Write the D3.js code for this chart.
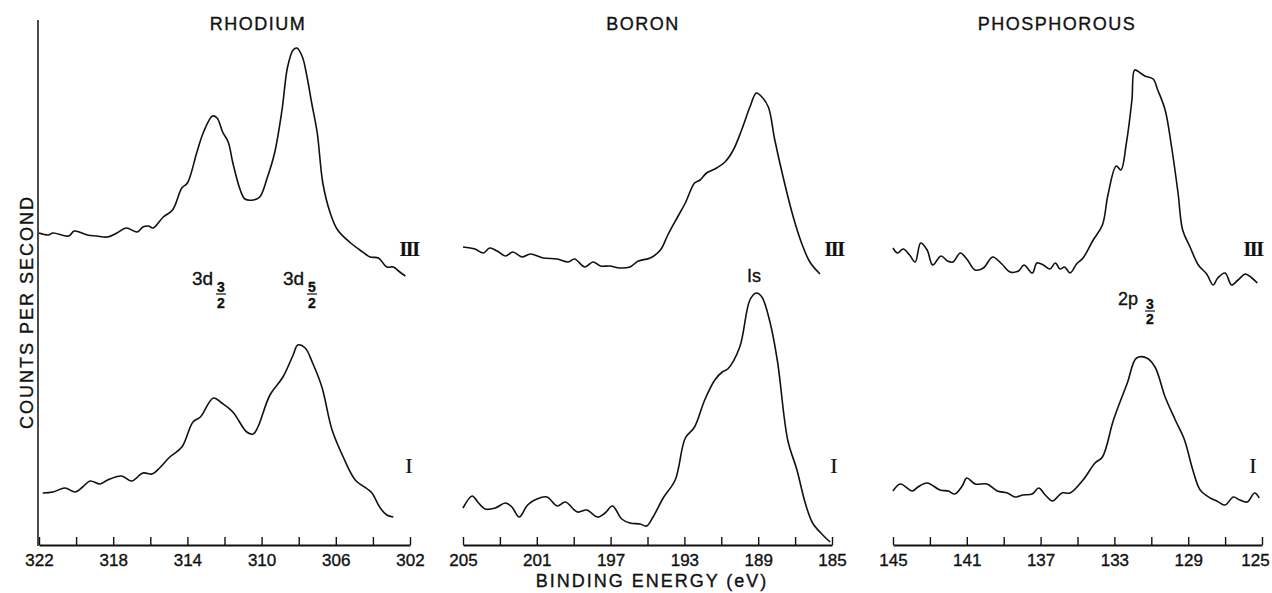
<!DOCTYPE html>
<html>
<head>
<meta charset="utf-8">
<script src="https://cdn.jsdelivr.net/npm/d3@7"></script>
<style>
  html, body { margin: 0; padding: 0; background: #fff; }
  svg { display: block; }
  text { font-family: "Liberation Sans", Arial, sans-serif; fill: #111; stroke: #111; stroke-width: 0.35px; }
  .roman { font-family: "Liberation Serif", "Times New Roman", serif; stroke-width: 0.2px; }
</style>
</head>
<body>
<svg id="chart" width="1272" height="593"></svg>
<script>
// ---------------- DATA ----------------
const panelTitles = ["RHODIUM", "BORON", "PHOSPHOROUS"];
const rhodiumTicks = [322, 320, 318, 316, 314, 312, 310, 308, 306, 304, 302];
const boronTicks = [205, 203, 201, 199, 197, 195, 193, 191, 189, 187, 185];
const phosTicks = [145, 143, 141, 139, 137, 135, 133, 131, 129, 127, 125];
const rhodiumLabels = [322, 318, 314, 310, 306, 302];
const boronLabels = [205, 201, 197, 193, 189, 185];
const phosLabels = [145, 141, 137, 133, 129, 125];

// Rhodium 3d, sample III (upper trace)
const rhIII_E = [322.0, 321.5, 321.25, 320.4, 320.1, 319.4, 318.9, 318.3, 317.8, 317.3, 316.7, 316.4, 316.1, 315.85, 315.3, 314.8, 314.3, 314.0, 313.5, 313.15, 312.65, 312.4, 312.1, 311.8, 311.55, 311.15, 310.9, 310.45, 310.1, 309.7, 309.3, 308.9, 308.6, 308.3, 308.1, 307.8, 307.55, 307.3, 307.0, 306.7, 306.3, 305.9, 305.2, 304.7, 304.15, 303.7, 303.25, 302.9, 302.55, 302.25];
const rhIII_C = [312, 310, 312, 309, 314, 310, 309, 308, 312, 317, 313, 318, 319, 317, 328, 335, 357, 362, 392, 412, 429, 427, 413, 403, 382, 355, 346, 345, 348, 367, 392, 435, 478, 495, 497, 488, 468, 442, 412, 362, 332, 315, 302, 295, 288, 287, 278, 278, 273, 269];
// Rhodium 3d, sample I (lower trace)
const rhI_E = [321.8, 321.25, 320.6, 320.05, 319.65, 319.25, 318.7, 318.3, 317.55, 317.0, 316.4, 315.9, 315.5, 314.95, 314.3, 313.7, 313.3, 312.6, 312.15, 311.55, 310.8, 310.45, 310.2, 309.55, 308.85, 308.3, 308.05, 307.65, 307.25, 306.75, 306.2, 305.6, 304.95, 304.3, 304.05, 303.6, 303.25, 302.9];
const rhI_C = [52, 53, 57, 53, 58, 64, 61, 65, 69, 64, 72, 71, 77, 88, 98, 123, 128, 147, 142, 133, 113, 111, 118, 150, 168, 190, 200, 197, 182, 158, 115, 88, 65, 56, 52, 37, 30, 28];

// Boron 1s
const bIII_E = [205.0, 204.35, 203.9, 203.55, 203.15, 202.7, 202.3, 201.8, 201.35, 200.65, 199.9, 199.3, 198.95, 198.4, 197.95, 197.55, 197.05, 196.5, 195.95, 195.5, 194.85, 194.3, 193.9, 193.4, 192.95, 192.45, 192.15, 191.8, 191.25, 190.8, 190.35, 189.9, 189.45, 189.1, 188.8, 188.45, 188.1, 187.65, 187.1, 186.65, 186.2, 185.65];
const bIII_C = [298, 296, 292, 297, 294, 289, 293, 288, 291, 287, 286, 283, 286, 278, 283, 279, 279, 277, 278, 284, 287, 295, 310, 327, 342, 362, 365, 372, 377, 383, 395, 415, 438, 452, 448, 438, 405, 368, 328, 302, 283, 271];
const bI_E = [205.0, 204.5, 204.2, 203.8, 203.25, 202.7, 202.35, 201.95, 201.5, 201.0, 200.45, 199.9, 199.45, 198.8, 198.3, 197.7, 197.3, 196.9, 196.4, 195.95, 195.4, 195.05, 194.7, 194.15, 193.5, 192.95, 192.45, 191.9, 191.35, 190.95, 190.65, 190.0, 189.45, 189.1, 188.8, 188.35, 187.95, 187.4, 186.9, 186.45, 186.05, 185.5, 185.1];
const bI_C = [37, 49, 43, 36, 37, 42, 38, 28, 40, 46, 48, 39, 43, 33, 35, 28, 32, 39, 26, 22, 21, 19, 28, 47, 65, 107, 118, 145, 165, 173, 176, 198, 245, 252, 248, 222, 183, 105, 75, 42, 22, 10, 3];

// Phosphorous 2p3/2
const pIII_E = [145.0, 144.75, 144.45, 144.1, 143.8, 143.5, 143.15, 142.85, 142.4, 142.05, 141.75, 141.35, 141.0, 140.55, 140.1, 139.6, 139.1, 138.65, 138.2, 137.9, 137.45, 137.2, 136.85, 136.5, 136.2, 135.95, 135.7, 135.4, 135.05, 134.7, 134.15, 133.65, 133.35, 132.9, 132.65, 132.35, 132.05, 131.9, 131.6, 131.35, 130.9, 130.65, 130.25, 129.9, 129.55, 129.3, 128.9, 128.45, 128.0, 127.65, 127.4, 127.0, 126.65, 126.3, 125.9, 125.55, 125.25];
const pIII_C = [297, 292, 296, 290, 283, 302, 295, 280, 289, 284, 283, 292, 286, 275, 277, 288, 281, 273, 274, 280, 272, 282, 280, 276, 282, 276, 278, 272, 281, 287, 305, 320, 350, 379, 375, 402, 445, 475, 472, 469, 466, 455, 435, 398, 352, 315, 298, 280, 271, 260, 267, 272, 260, 265, 271, 267, 262];
const pI_E = [145.0, 144.6, 143.95, 143.65, 143.15, 142.45, 142.0, 141.65, 141.25, 141.0, 140.55, 139.9, 139.35, 138.8, 138.4, 137.95, 137.45, 137.1, 136.75, 136.35, 135.85, 135.4, 134.7, 134.05, 133.65, 133.05, 132.3, 131.8, 131.25, 130.8, 130.25, 129.7, 129.2, 128.75, 128.35, 127.8, 127.45, 127.0, 126.55, 126.2, 125.8, 125.4, 125.15];
const pI_C = [54, 61, 54, 58, 62, 55, 54, 51, 59, 67, 61, 61, 54, 52, 48, 50, 51, 57, 50, 44, 52, 52, 65, 82, 88, 125, 162, 187, 187, 178, 148, 125, 105, 75, 55, 47, 44, 40, 48, 45, 43, 52, 47];

// ---------------- CHART ----------------
const svg = d3.select("#chart");
const y = d3.scaleLinear().domain([0, 500]).range([545, 45]);

const panels = [
  { title: panelTitles[0], domain: [322, 302], range: [39, 410], ticks: rhodiumTicks, labels: rhodiumLabels,
    series: [[rhIII_E, rhIII_C], [rhI_E, rhI_C]], titleX: 258, romanX: 409 },
  { title: panelTitles[1], domain: [205, 185], range: [463, 832], ticks: boronTicks, labels: boronLabels,
    series: [[bIII_E, bIII_C], [bI_E, bI_C]], titleX: 643, romanX: 834 },
  { title: panelTitles[2], domain: [145, 125], range: [893, 1262], ticks: phosTicks, labels: phosLabels,
    series: [[pIII_E, pIII_C], [pI_E, pI_C]], titleX: 1057, romanX: 1253 }
];

panels.forEach((p, pi) => {
  const x = d3.scaleLinear().domain(p.domain).range(p.range);
  const axis = d3.axisBottom(x)
    .tickValues(p.ticks)
    .tickSizeInner(-8)
    .tickSizeOuter(0)
    .tickPadding(9)
    .tickFormat(d => p.labels.includes(d) ? String(d) : "");
  const g = svg.append("g").attr("transform", "translate(0,545)").call(axis);
  g.select(".domain").attr("stroke", "#111").attr("stroke-width", 2);
  g.selectAll(".tick line").attr("stroke", "#111").attr("stroke-width", 1.4);
  g.selectAll(".tick text").attr("font-size", 17).attr("fill", "#111")
    .attr("font-family", "'Liberation Sans', Arial, sans-serif");
  if (pi === 2) {
    // last label sits against the right edge, as in the reference
    g.selectAll(".tick text").filter(d => d === 125).attr("dx", -7);
  }

  const line = d3.line()
    .x(d => x(d[0]))
    .y(d => y(d[1]))
    .curve(d3.curveCatmullRom.alpha(0.5));
  p.series.forEach(([E, C]) => {
    svg.append("path")
      .datum(E.map((e, i) => [e, C[i]]))
      .attr("fill", "none")
      .attr("stroke", "#111")
      .attr("stroke-width", 1.6)
      .attr("stroke-linejoin", "round")
      .attr("d", line);
  });

  svg.append("text")
    .attr("x", p.titleX).attr("y", 30)
    .attr("text-anchor", "middle")
    .attr("font-size", 18).attr("letter-spacing", 1.5)
    .text(p.title);

  svg.append("text").attr("class", "roman")
    .attr("x", p.romanX).attr("y", 256)
    .attr("text-anchor", "middle")
    .attr("font-size", 20).attr("font-weight", "bold").attr("letter-spacing", -1.5)
    .text("III");
  svg.append("text").attr("class", "roman")
    .attr("x", p.romanX).attr("y", 473)
    .attr("text-anchor", "middle")
    .attr("font-size", 22)
    .text("I");
});

// left vertical axis
svg.append("line")
  .attr("x1", 38).attr("x2", 38)
  .attr("y1", 20).attr("y2", 546)
  .attr("stroke", "#111").attr("stroke-width", 1.5);

// axis titles
svg.append("text")
  .attr("x", 652).attr("y", 587)
  .attr("text-anchor", "middle")
  .attr("font-size", 18).attr("letter-spacing", 2)
  .text("BINDING ENERGY (eV)");

svg.append("text")
  .attr("transform", "translate(33,312) rotate(-90)")
  .attr("text-anchor", "middle")
  .attr("font-size", 18).attr("letter-spacing", 2)
  .text("COUNTS PER SECOND");

// peak annotations
function orbital(main, xMain, yBase, size, num, xFrac, yNum, yDen) {
  svg.append("text").attr("x", xMain).attr("y", yBase).attr("font-size", size).text(main);
  if (num) {
    svg.append("text").attr("x", xFrac).attr("y", yNum).attr("font-size", 14)
      .attr("font-weight", "bold").attr("text-anchor", "middle").text(num);
    svg.append("line").attr("x1", xFrac - 5).attr("x2", xFrac + 5)
      .attr("y1", yNum + 2).attr("y2", yNum + 2)
      .attr("stroke", "#111").attr("stroke-width", 1.2);
    svg.append("text").attr("x", xFrac).attr("y", yDen).attr("font-size", 14)
      .attr("font-weight", "bold").attr("text-anchor", "middle").text("2");
  }
}
orbital("3d", 192, 285, 19, "3", 221, 292, 308);
orbital("3d", 283, 285, 19, "5", 312, 292, 308);
orbital("Is", 747, 282, 18, null);
orbital("2p", 1118, 305, 18, "3", 1150, 309, 324);
</script>
</body>
</html>
